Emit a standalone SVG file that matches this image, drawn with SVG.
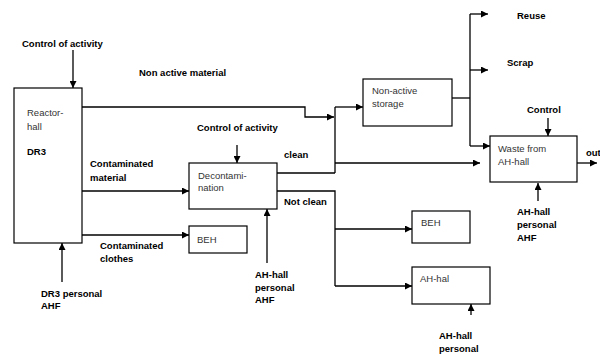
<svg xmlns="http://www.w3.org/2000/svg" width="600" height="356" viewBox="0 0 600 356">
<defs>
<marker id="ah" viewBox="0 0 10 10" refX="10" refY="5" markerWidth="7" markerHeight="7" markerUnits="userSpaceOnUse" orient="auto">
<path d="M0,0 L10,5 L0,10 Z" fill="#000"/>
</marker>
<style>
.box{fill:#fff;stroke:#000;stroke-width:1.2}
.bt{font-family:"Liberation Sans",Arial,sans-serif;font-size:9.5px;fill:#333}
.lb{font-family:"Liberation Sans",Arial,sans-serif;font-size:9.5px;font-weight:bold;fill:#000}
.ln{fill:none;stroke:#000;stroke-width:1.3}
.ar{fill:none;stroke:#000;stroke-width:1.3;marker-end:url(#ah)}
</style>
</defs>
<rect width="600" height="356" fill="#fff"/>
<g id="connectors">
<path class="ar" d="M73,50 V88"/>
<path class="ar" d="M82,107 H305 V117 H334"/>
<path class="ln" d="M335,107 V173"/>
<path class="ar" d="M335,107 H363"/>
<path class="ar" d="M335,163 H480"/>
<path class="ln" d="M277,173 H335"/>
<path class="ln" d="M452,98 H470"/>
<path class="ln" d="M470,14 V146"/>
<path class="ar" d="M470,14 H488"/>
<path class="ar" d="M470,70 H488"/>
<path class="ar" d="M470,146 H490"/>
<path class="ar" d="M548,118 V136"/>
<path class="ar" d="M577,163 H597"/>
<path class="ar" d="M538,201 V183"/>
<path class="ar" d="M82,191 H189"/>
<path class="ar" d="M82,235 H189"/>
<path class="ar" d="M62,282 V243"/>
<path class="ar" d="M237,145 V163"/>
<path class="ar" d="M267,263 V209"/>
<path class="ln" d="M277,191 H335 V286"/>
<path class="ar" d="M335,229 H412"/>
<path class="ar" d="M335,286 H412"/>
<path class="ar" d="M471,315 V304"/>
</g>
<g id="reactor-hall">
<rect class="box" x="14" y="88" width="68" height="155"/>
<text class="bt" x="27" y="115.5">Reactor-</text>
<text class="bt" x="27" y="129.5">hall</text>
<text class="lb" x="27" y="154.5">DR3</text>
</g>
<g id="non-active-storage">
<rect class="box" x="363" y="79" width="89" height="47"/>
<text class="bt" x="372" y="94">Non-active</text>
<text class="bt" x="372" y="107">storage</text>
</g>
<g id="waste-from-ah-hall">
<rect class="box" x="490" y="136" width="87" height="46"/>
<text class="bt" x="498" y="151.5">Waste from</text>
<text class="bt" x="498" y="165">AH-hall</text>
</g>
<g id="decontamination">
<rect class="box" x="189" y="163" width="88" height="46"/>
<text class="bt" x="198" y="179">Decontami-</text>
<text class="bt" x="198" y="191">nation</text>
</g>
<g id="beh1">
<rect class="box" x="189" y="226" width="58" height="27"/>
<text class="bt" x="197" y="242.5">BEH</text>
</g>
<g id="beh2">
<rect class="box" x="412" y="211" width="58" height="32"/>
<text class="bt" x="421" y="225.5">BEH</text>
</g>
<g id="ah-hal">
<rect class="box" x="412" y="267" width="78" height="37"/>
<text class="bt" x="420" y="281.5">AH-hal</text>
</g>
<g id="labels">
<text class="lb" x="22" y="46.5">Control of activity</text>
<text class="lb" x="139" y="75.5">Non active material</text>
<text class="lb" x="197" y="130.5">Control of activity</text>
<text class="lb" x="284" y="157.5">clean</text>
<text class="lb" x="284" y="204.5">Not clean</text>
<text class="lb" x="90" y="166.5">Contaminated</text>
<text class="lb" x="90" y="180.5">material</text>
<text class="lb" x="100" y="248.5">Contaminated</text>
<text class="lb" x="100" y="261.5">clothes</text>
<text class="lb" x="41" y="296.5">DR3 personal</text>
<text class="lb" x="41" y="308.5">AHF</text>
<text class="lb" x="255" y="277.5">AH-hall</text>
<text class="lb" x="255" y="290.5">personal</text>
<text class="lb" x="255" y="302.5">AHF</text>
<text class="lb" x="517" y="18.5">Reuse</text>
<text class="lb" x="507" y="65.5">Scrap</text>
<text class="lb" x="527" y="112.5">Control</text>
<text class="lb" x="586" y="155.5">out</text>
<text class="lb" x="517" y="214.5">AH-hall</text>
<text class="lb" x="517" y="227.5">personal</text>
<text class="lb" x="517" y="240.5">AHF</text>
<text class="lb" x="439" y="338.5">AH-hall</text>
<text class="lb" x="439" y="351.5">personal</text>
</g>
</svg>
